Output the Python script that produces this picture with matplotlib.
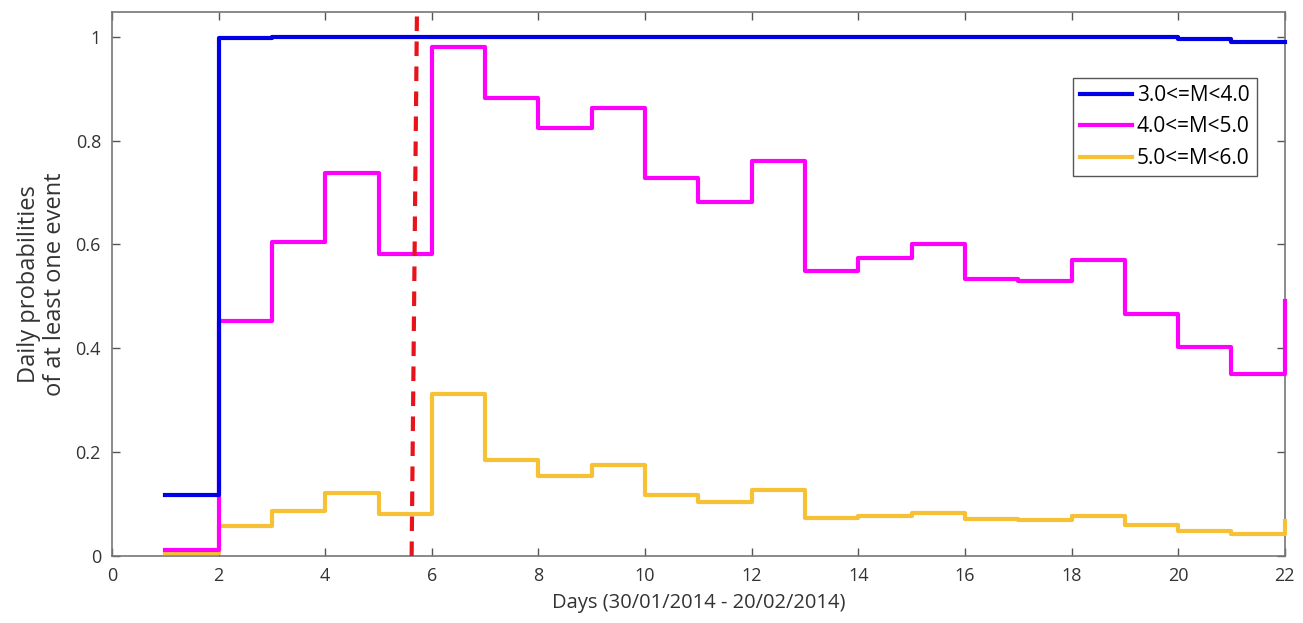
import numpy as np
import matplotlib
matplotlib.use('Agg')
import matplotlib.pyplot as plt

plt.rcParams['font.family'] = ['Open Sans', 'DejaVu Sans']

days = np.arange(1, 23)
p_m3 = [0.117, 0.998, 1.0, 1.0, 1.0, 1.0, 1.0, 1.0, 1.0, 1.0, 1.0,
        1.0, 1.0, 1.0, 1.0, 1.0, 1.0, 1.0, 0.999, 0.996, 0.99, 0.99]
p_m4 = [0.012, 0.452, 0.604, 0.737, 0.581, 0.98, 0.882, 0.824, 0.863, 0.728, 0.682,
        0.76, 0.548, 0.573, 0.6, 0.533, 0.53, 0.57, 0.467, 0.403, 0.351, 0.492]
p_m5 = [0.005, 0.058, 0.087, 0.122, 0.081, 0.312, 0.185, 0.155, 0.175, 0.118, 0.105,
        0.128, 0.074, 0.078, 0.083, 0.071, 0.07, 0.077, 0.059, 0.049, 0.042, 0.067]
labels = ['3.0<=M<4.0', '4.0<=M<5.0', '5.0<=M<6.0']
colors = ['#0000e6', '#ff00ff', '#f7c135']

event_x = [5.62, 5.72]
event_y = [0, 1.05]

fig = plt.figure(figsize=(13.03, 6.23), dpi=100)
ax = fig.add_axes([0.086, 0.1075, 0.9, 0.8735])

series = [p_m3, p_m4, p_m5]
# draw yellow first, blue last (blue on top)
for k in [2, 1, 0]:
    ax.step(days, series[k], where='post', color=colors[k], lw=3,
            label=labels[k], zorder=3 + (2 - k), clip_on=False)
ax.plot(event_x, event_y, color='#e8141b', lw=3, ls=(0, (3.5, 2.5)), zorder=6)

ax.set_xlim(0, 22)
ax.set_ylim(0, 1.048)
ax.set_xticks(np.arange(0, 23, 2))
ax.set_yticks([0, 0.2, 0.4, 0.6, 0.8, 1])
ax.set_yticklabels(['0', '0.2', '0.4', '0.6', '0.8', '1'])
ax.tick_params(direction='in', top=True, right=True, length=6, width=1,
               colors='#555555', labelcolor='#333333', labelsize=13, pad=8)
for s in ax.spines.values():
    s.set_color('#777777')
    s.set_linewidth(1.2)

ax.set_xlabel('Days (30/01/2014 - 20/02/2014)', fontsize=14.5, color='#333333', labelpad=6)
ax.set_ylabel('Daily probabilities\nof at least one event', fontsize=17, color='#333333',
              linespacing=1.15)
ax.yaxis.set_label_coords(-0.038, 0.5)

h, l = ax.get_legend_handles_labels()
leg = ax.legend(h[::-1], l[::-1], loc='upper right', bbox_to_anchor=(0.976, 0.879),
                fontsize=15, fancybox=False, edgecolor='#555555', handlelength=2.5,
                handletextpad=0.2, borderpad=0.35, borderaxespad=0,
                labelspacing=0.5, framealpha=1)
leg.get_frame().set_linewidth(1)
leg.set_zorder(10)

fig.savefig('out.png', dpi=100)
